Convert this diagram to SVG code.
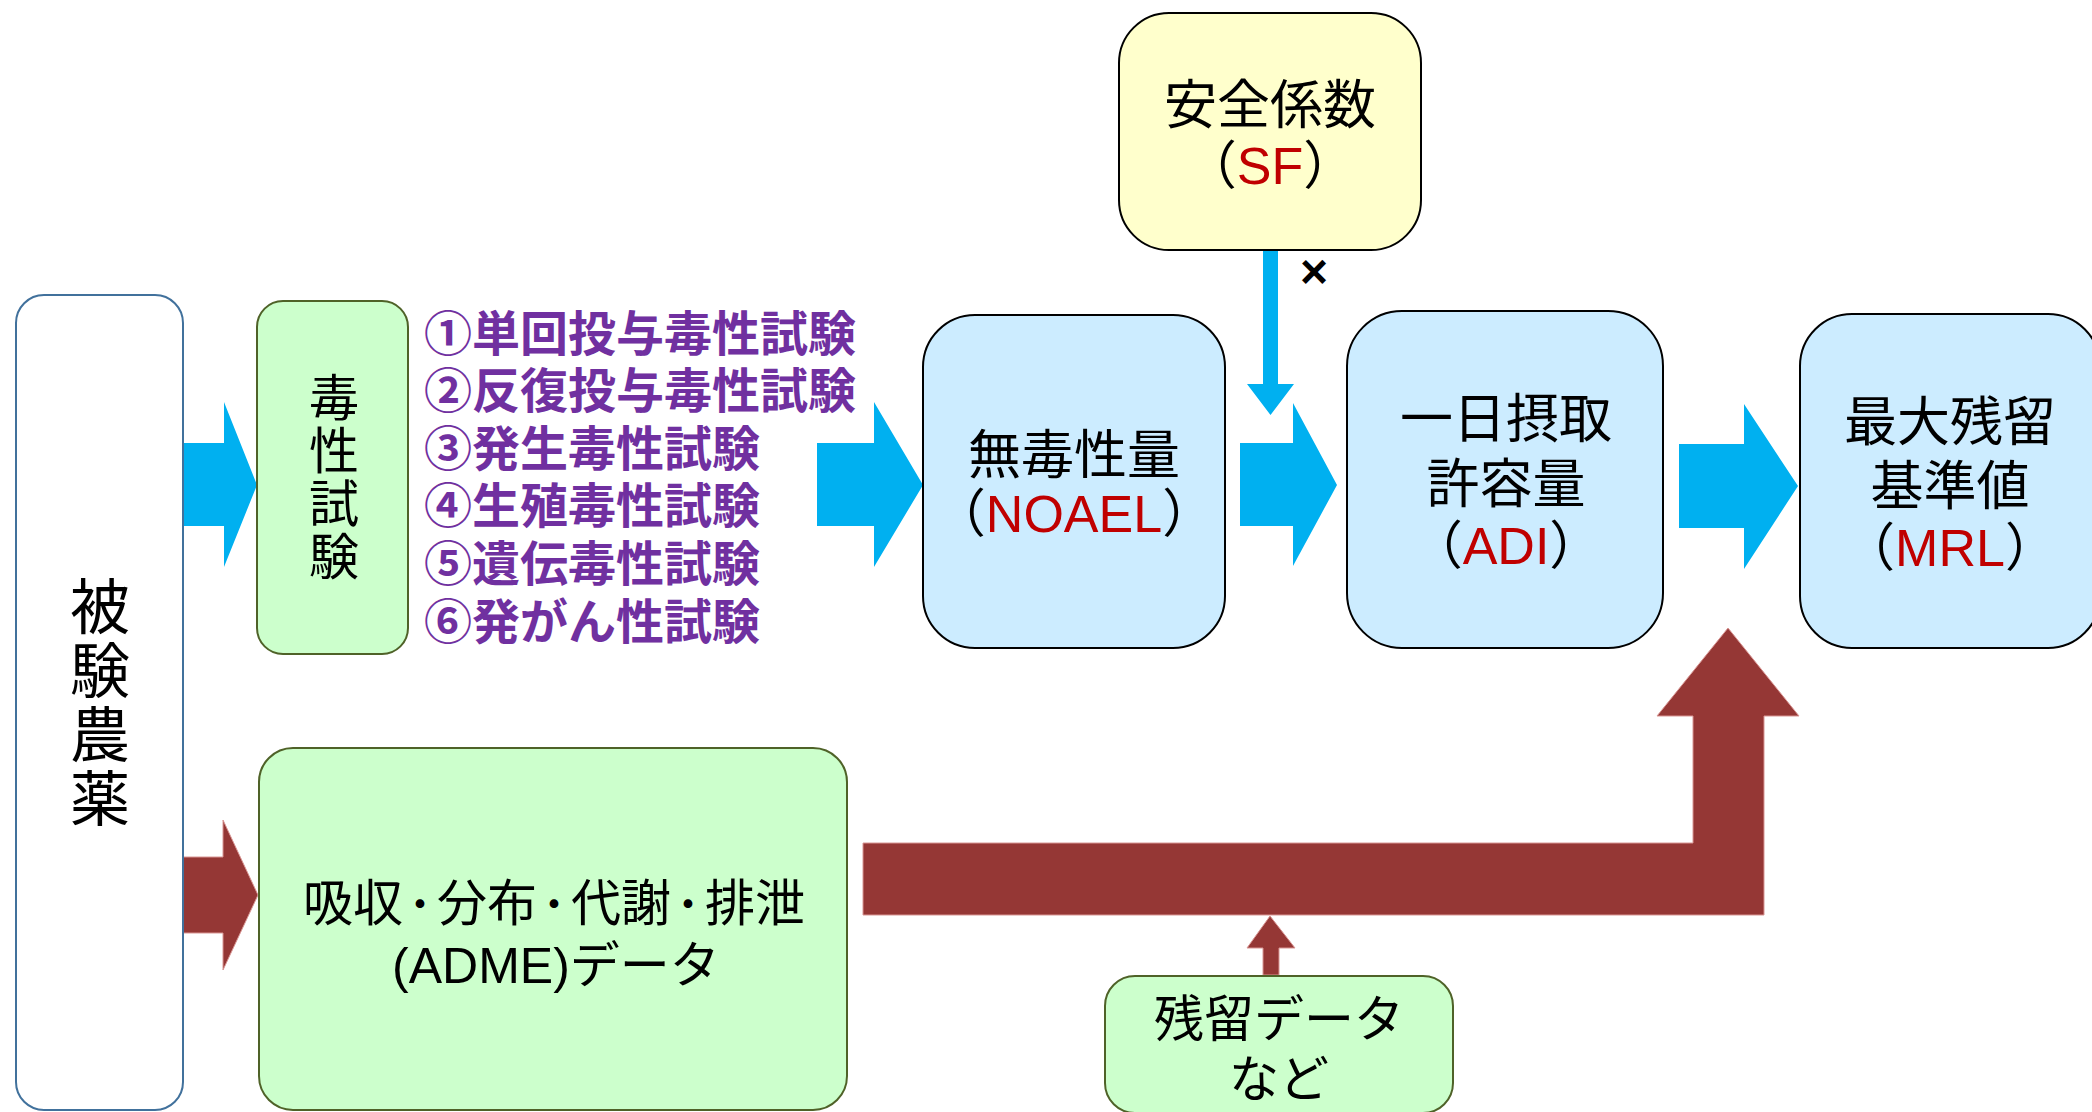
<svg xmlns="http://www.w3.org/2000/svg" width="2092" height="1112" viewBox="0 0 2092 1112">
<style>
.cjk{font-family:"Liberation Sans","Noto Sans CJK JP","Noto Sans CJK SC",sans-serif;fill:#000}
.vert{font-family:"Noto Sans CJK JP","Noto Sans CJK SC",sans-serif;fill:#000;writing-mode:vertical-rl}
.mix{font-family:"Liberation Sans","Noto Sans CJK JP",sans-serif;fill:#000}
.red{fill:#C00000}
.pur{font-family:"Liberation Sans","Noto Sans CJK JP",sans-serif;font-weight:bold;fill:#7030A0;font-size:48px}
.blue{fill:#CCECFF;stroke:#000;stroke-width:2}
.green{fill:#CCFFCC;stroke:#4F6228;stroke-width:2}
.ba{fill:#00B0F0}
.ra{fill:#953735;stroke:#D99694;stroke-width:1}
.dot{font-size:34px;font-weight:bold}
</style>
<rect width="2092" height="1112" fill="#fff"/>
<g id="connectors">
<polygon class="ba" points="183,443 224,443 224,402 257,485 224,567 224,526 183,526"/>
<polygon class="ba" points="817,443 874,443 874,402 923,485 874,567 874,526 817,526"/>
<polygon class="ba" points="1240,443 1293,443 1293,403 1337,485 1293,566 1293,526 1240,526"/>
<polygon class="ba" points="1679,444 1744,444 1744,404 1798,486 1744,569 1744,528 1679,528"/>
<polygon class="ba" points="1263,250 1278,250 1278,384 1294,384 1270.5,415 1247,384 1263,384"/>
<text class="mix" x="1314" y="288" font-size="48" font-weight="bold" text-anchor="middle">×</text>
<polygon class="ra" points="183,857 223,857 223,820 258,895 223,970 223,933 183,933"/>
<polygon class="ra" points="863,843 1693,843 1693,716 1657,716 1728,628 1799,716 1764,716 1764,915 863,915"/>
<polygon class="ra" points="1263,975 1263,948 1247,948 1270,916 1295,948 1279,948 1279,975"/>
</g>
<g id="pesticide">
<rect x="16" y="295" width="167" height="815" rx="28" fill="#fff" stroke="#41719C" stroke-width="2"/>
<text class="vert" x="100" y="576" font-size="60" letter-spacing="4">被験農薬</text>
</g>
<g id="toxicity">
<rect class="green" x="257" y="301" width="151" height="353" rx="26"/>
<text class="vert" x="334" y="372" font-size="50" letter-spacing="3">毒性試験</text>
</g>
<g id="tests">
<text class="pur" x="424" y="351">①単回投与毒性試験</text>
<text class="pur" x="424" y="408">②反復投与毒性試験</text>
<text class="pur" x="424" y="466">③発生毒性試験</text>
<text class="pur" x="424" y="523">④生殖毒性試験</text>
<text class="pur" x="424" y="581">⑤遺伝毒性試験</text>
<text class="pur" x="424" y="639">⑥発がん性試験</text>
</g>
<g id="noael">
<rect class="blue" x="923" y="315" width="302" height="333" rx="52"/>
<text class="cjk" x="1074" y="474" font-size="53" text-anchor="middle">無毒性量</text>
<text class="mix" x="1074" y="532" font-size="52" text-anchor="middle">（<tspan class="red">NOAEL</tspan>）</text>
</g>
<g id="sf">
<rect x="1119" y="13" width="302" height="237" rx="50" fill="#FFFFCC" stroke="#000" stroke-width="2"/>
<text class="cjk" x="1270" y="124" font-size="53" text-anchor="middle">安全係数</text>
<text class="mix" x="1270" y="184" font-size="52" text-anchor="middle">（<tspan class="red">SF</tspan>）</text>
</g>
<g id="adi">
<rect class="blue" x="1347" y="311" width="316" height="337" rx="55"/>
<text class="cjk" x="1506" y="438" font-size="53" text-anchor="middle">一日摂取</text>
<text class="cjk" x="1506" y="503" font-size="53" text-anchor="middle">許容量</text>
<text class="mix" x="1506" y="564" font-size="52" text-anchor="middle">（<tspan class="red">ADI</tspan>）</text>
</g>
<g id="mrl">
<rect class="blue" x="1800" y="314" width="300" height="334" rx="52"/>
<text class="cjk" x="1950" y="441" font-size="53" text-anchor="middle">最大残留</text>
<text class="cjk" x="1950" y="505" font-size="53" text-anchor="middle">基準値</text>
<text class="mix" x="1950" y="566" font-size="52" text-anchor="middle">（<tspan class="red">MRL</tspan>）</text>
</g>
<g id="adme">
<rect class="green" x="259" y="748" width="588" height="362" rx="34"/>
<text class="cjk" x="554" y="921" font-size="50" text-anchor="middle">吸収<tspan class="dot" baseline-shift="4">・</tspan>分布<tspan class="dot" baseline-shift="4">・</tspan>代謝<tspan class="dot" baseline-shift="4">・</tspan>排泄</text>
<text class="mix" x="556" y="983" font-size="50" text-anchor="middle">(ADME)データ</text>
</g>
<g id="residue">
<rect class="green" x="1105" y="976" width="348" height="137" rx="30"/>
<text class="cjk" x="1279" y="1037" font-size="50" text-anchor="middle">残留データ</text>
<text class="cjk" x="1279" y="1097" font-size="50" text-anchor="middle">など</text>
</g>
</svg>
